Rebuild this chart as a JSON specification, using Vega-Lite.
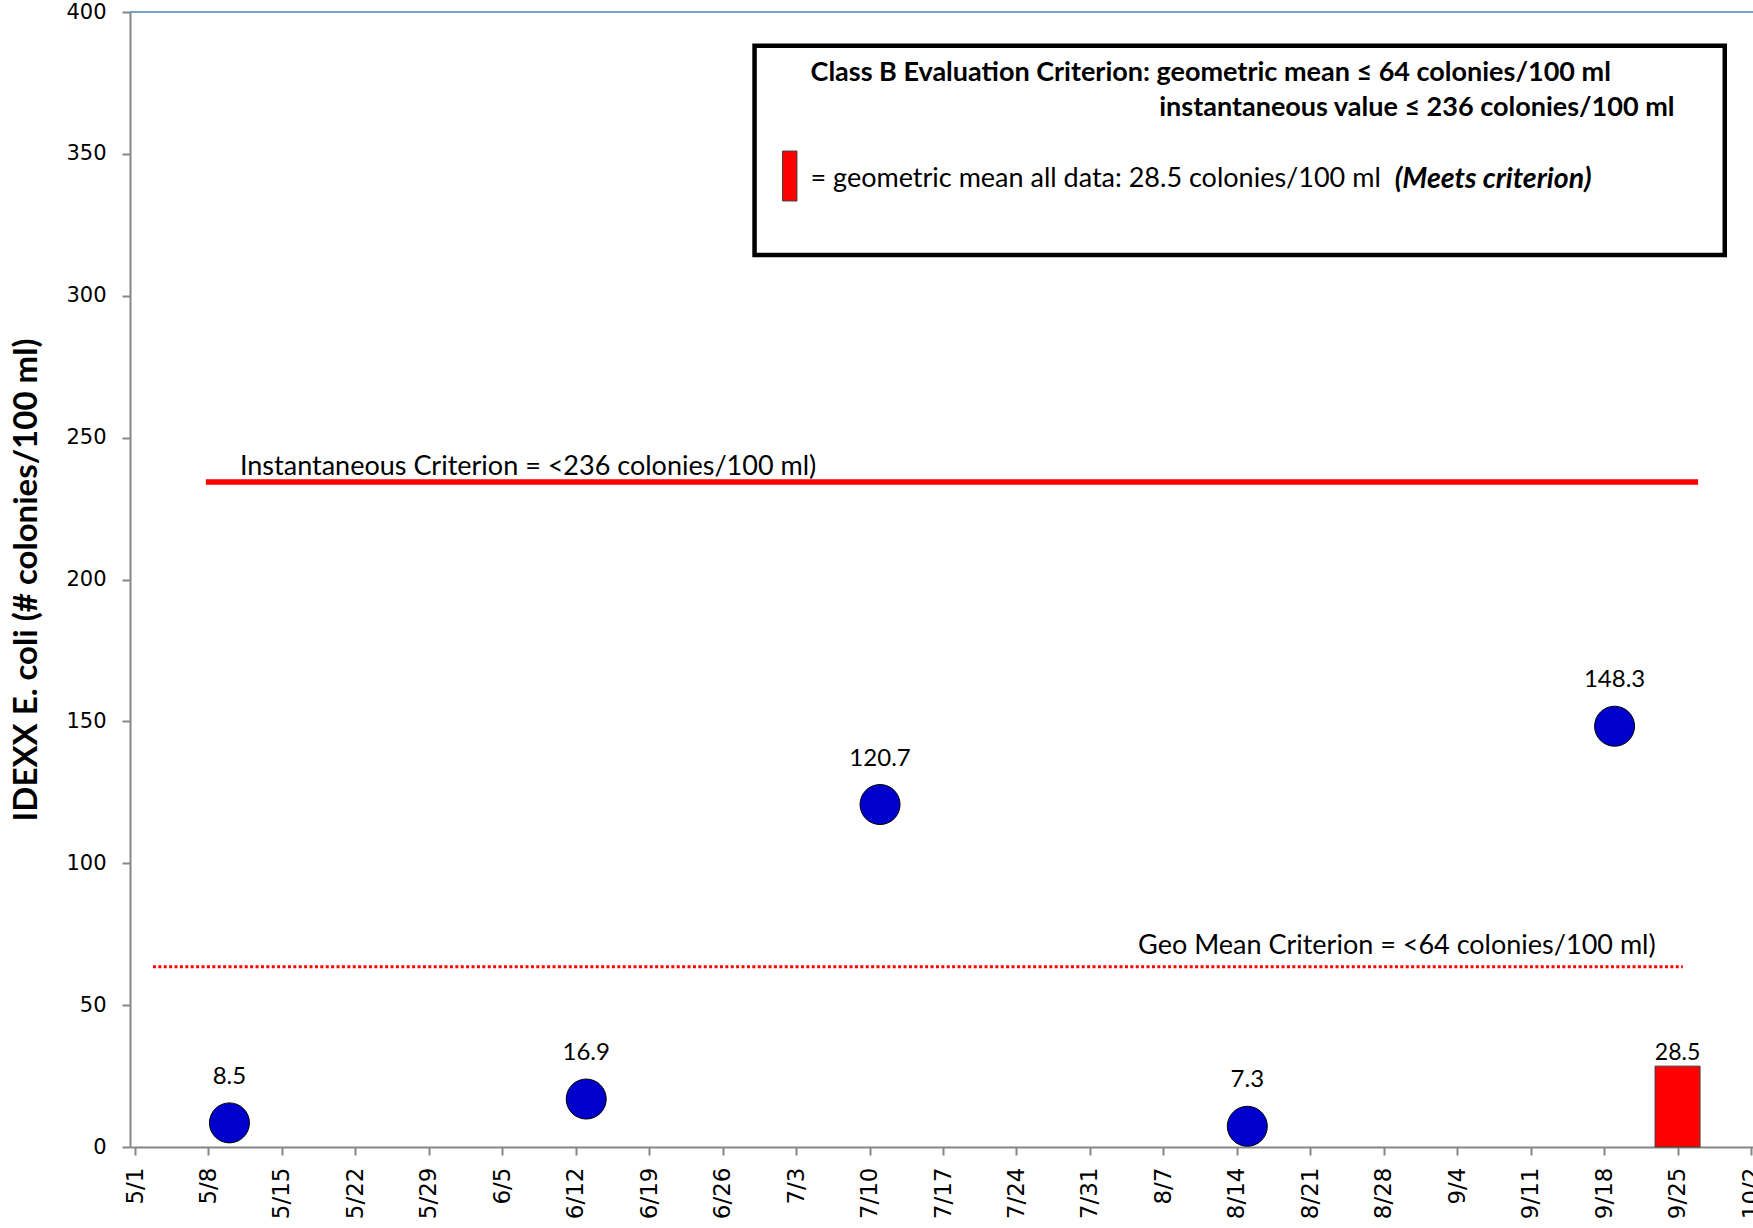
{
  "$schema": "https://vega.github.io/schema/vega-lite/v6.json",
  "autosize": {"type": "none"},
  "padding": {"left": 130, "top": 12, "right": 0, "bottom": 81},
  "width": 1626,
  "height": 1135,
  "background": "white",
  "config": {"view": {"stroke": null}},
  "datasets": {
    "points": [
      {"date": "2011-05-10", "value": 8.5, "label": "8.5"},
      {"date": "2011-06-13", "value": 16.9, "label": "16.9"},
      {"date": "2011-07-11", "value": 120.7, "label": "120.7"},
      {"date": "2011-08-15", "value": 7.3, "label": "7.3"},
      {"date": "2011-09-19", "value": 148.3, "label": "148.3"}
    ],
    "geomean": [
      {"date": "2011-09-25", "value": 28.5, "label": "28.5"}
    ],
    "top": [
      {"value": 400}
    ],
    "inst_line": [
      {"date": "2011-05-07T18:00:00Z", "value": 234.4},
      {"date": "2011-09-26T23:00:00Z", "value": 234.4}
    ],
    "geo_line": [
      {"date": "2011-05-02T17:00:00Z", "value": 63.5},
      {"date": "2011-09-25T12:00:00Z", "value": 63.5}
    ],
    "box": [
      {"date": "2011-06-29T01:00:00Z", "date2": "2011-09-29T12:00:00Z", "value": 388.1, "value2": 314.4}
    ],
    "swatch": [
      {"date": "2011-07-01T17:00:00Z", "date2": "2011-07-03T02:00:00Z", "value": 351.0, "value2": 333.4}
    ],
    "notes_left_plain": [
      {"date": "2011-05-11T00:00:00Z", "value": 239.5, "text": "Instantaneous Criterion = <236 colonies/100 ml)"},
      {"date": "2011-07-04T09:00:00Z", "value": 341.2, "text": "= geometric mean all data:  28.5 colonies/100 ml"}
    ],
    "notes_right_plain": [
      {"date": "2011-09-22T22:00:00Z", "value": 70.9, "text": "Geo Mean Criterion = <64 colonies/100 ml)"}
    ],
    "notes_bold_left": [
      {"date": "2011-07-04T09:00:00Z", "value": 378.6, "text": "Class B Evaluation Criterion: geometric mean ≤ 64 colonies/100 ml"}
    ],
    "notes_bold_right": [
      {"date": "2011-09-24T17:00:00Z", "value": 366.0, "text": "instantaneous value ≤ 236 colonies/100 ml"}
    ],
    "notes_bold_italic": [
      {"date": "2011-08-29T01:00:00Z", "value": 341.2, "text": "(Meets criterion)"}
    ]
  },
  "layer": [
    {
      "data": {"name": "points"},
      "mark": {"type": "point", "filled": true, "opacity": 0},
      "encoding": {
        "x": {
          "field": "date", "type": "temporal",
          "scale": {"type": "utc", "domain": [{"year": 2011, "month": 5, "date": 1, "utc": true}, {"year": 2011, "month": 10, "date": 2, "utc": true}]},
          "axis": {
            "title": null,
            "tickCount": {"interval": "week", "step": 1},
            "format": "%-m/%-d",
            "labelAngle": 270,
            "labelFont": "DejaVu Sans",
            "labelFontSize": 23,
            "labelColor": "black",
            "labelPadding": 12,
            "labelOverlap": false,
            "labelFlush": false,
            "domainColor": "#868686",
            "domainWidth": 2,
            "tickColor": "#868686",
            "tickWidth": 2,
            "tickSize": 8,
            "grid": false
          }
        },
        "y": {
          "field": "value", "type": "quantitative",
          "scale": {"domain": [0, 400], "nice": false, "zero": true},
          "axis": {
            "title": "IDEXX E. coli (# colonies/100 ml)",
            "titleFont": "Lato",
            "titleFontSize": 33,
            "titleFontWeight": "bold",
            "titleColor": "black",
            "titlePadding": 22,
            "values": [0, 50, 100, 150, 200, 250, 300, 350, 400],
            "labelFont": "DejaVu Sans",
            "labelFontSize": 21,
            "labelColor": "black",
            "labelPadding": 16,
            "labelFlush": false,
            "domainColor": "#868686",
            "domainWidth": 2,
            "tickColor": "#868686",
            "tickWidth": 2,
            "tickSize": 8,
            "grid": false
          }
        }
      }
    },
    {
      "data": {"name": "top"},
      "mark": {"type": "rule", "color": "#4F81BD", "strokeWidth": 1.5},
      "encoding": {"y": {"field": "value", "type": "quantitative"}}
    },
    {
      "data": {"name": "box"},
      "mark": {"type": "rect", "fill": "white", "stroke": "black", "strokeWidth": 4.5},
      "encoding": {
        "x": {"field": "date", "type": "temporal"},
        "x2": {"field": "date2"},
        "y": {"field": "value", "type": "quantitative"},
        "y2": {"field": "value2"}
      }
    },
    {
      "data": {"name": "swatch"},
      "mark": {"type": "rect", "fill": "#FF0000", "stroke": "#404040", "strokeWidth": 1},
      "encoding": {
        "x": {"field": "date", "type": "temporal"},
        "x2": {"field": "date2"},
        "y": {"field": "value", "type": "quantitative"},
        "y2": {"field": "value2"}
      }
    },
    {
      "data": {"name": "inst_line"},
      "mark": {"type": "line", "color": "#FF0000", "strokeWidth": 5.5},
      "encoding": {
        "x": {"field": "date", "type": "temporal"},
        "y": {"field": "value", "type": "quantitative"}
      }
    },
    {
      "data": {"name": "geo_line"},
      "mark": {"type": "line", "color": "#FF0000", "strokeWidth": 3, "strokeDash": [3, 2.4]},
      "encoding": {
        "x": {"field": "date", "type": "temporal"},
        "y": {"field": "value", "type": "quantitative"}
      }
    },
    {
      "data": {"name": "geomean"},
      "mark": {"type": "bar", "size": 45, "fill": "#FF0000", "stroke": "#404040", "strokeWidth": 1},
      "encoding": {
        "x": {"field": "date", "type": "temporal"},
        "y": {"field": "value", "type": "quantitative"}
      }
    },
    {
      "data": {"name": "geomean"},
      "mark": {"type": "text", "font": "Lato", "fontSize": 23, "color": "black", "baseline": "bottom", "dy": -1},
      "encoding": {
        "x": {"field": "date", "type": "temporal"},
        "y": {"field": "value", "type": "quantitative"},
        "text": {"field": "label"}
      }
    },
    {
      "data": {"name": "points"},
      "mark": {"type": "point", "shape": "circle", "size": 1600, "filled": true, "fill": "#0000CC", "stroke": "black", "strokeWidth": 1, "opacity": 1},
      "encoding": {
        "x": {"field": "date", "type": "temporal"},
        "y": {"field": "value", "type": "quantitative"}
      }
    },
    {
      "data": {"name": "points"},
      "mark": {"type": "text", "font": "Lato", "fontSize": 24, "color": "black", "baseline": "middle", "dy": -46},
      "encoding": {
        "x": {"field": "date", "type": "temporal"},
        "y": {"field": "value", "type": "quantitative"},
        "text": {"field": "label"}
      }
    },
    {
      "data": {"name": "notes_left_plain"},
      "mark": {"type": "text", "font": "Lato", "fontSize": 27, "color": "black", "align": "left", "baseline": "middle"},
      "encoding": {
        "x": {"field": "date", "type": "temporal"},
        "y": {"field": "value", "type": "quantitative"},
        "text": {"field": "text"}
      }
    },
    {
      "data": {"name": "notes_right_plain"},
      "mark": {"type": "text", "font": "Lato", "fontSize": 27, "color": "black", "align": "right", "baseline": "middle"},
      "encoding": {
        "x": {"field": "date", "type": "temporal"},
        "y": {"field": "value", "type": "quantitative"},
        "text": {"field": "text"}
      }
    },
    {
      "data": {"name": "notes_bold_left"},
      "mark": {"type": "text", "font": "Lato", "fontSize": 27, "fontWeight": "bold", "color": "black", "align": "left", "baseline": "middle"},
      "encoding": {
        "x": {"field": "date", "type": "temporal"},
        "y": {"field": "value", "type": "quantitative"},
        "text": {"field": "text"}
      }
    },
    {
      "data": {"name": "notes_bold_right"},
      "mark": {"type": "text", "font": "Lato", "fontSize": 27, "fontWeight": "bold", "color": "black", "align": "right", "baseline": "middle"},
      "encoding": {
        "x": {"field": "date", "type": "temporal"},
        "y": {"field": "value", "type": "quantitative"},
        "text": {"field": "text"}
      }
    },
    {
      "data": {"name": "notes_bold_italic"},
      "mark": {"type": "text", "font": "Lato", "fontSize": 28.5, "fontWeight": "bold", "fontStyle": "italic", "color": "black", "align": "left", "baseline": "middle"},
      "encoding": {
        "x": {"field": "date", "type": "temporal"},
        "y": {"field": "value", "type": "quantitative"},
        "text": {"field": "text"}
      }
    }
  ]
}
